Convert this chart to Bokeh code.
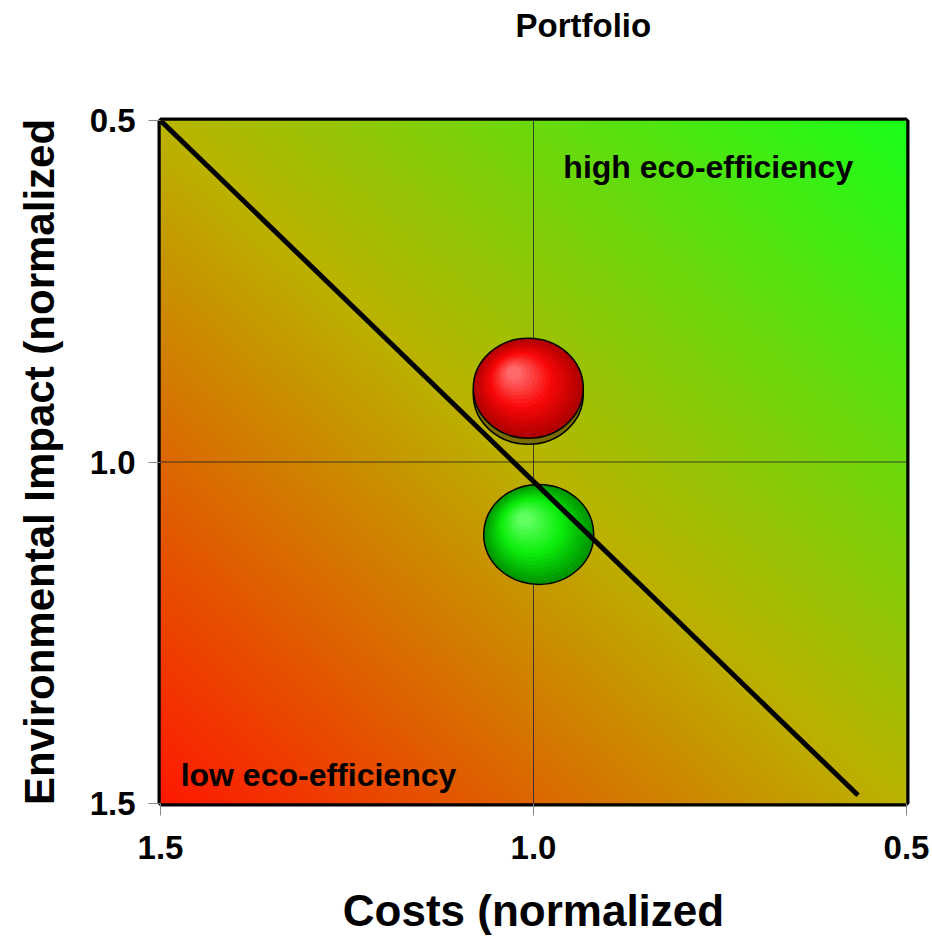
import numpy as np
from bokeh.plotting import figure
from bokeh.models import Range1d, FixedTicker, Title
from bokeh.core.properties import value
from bokeh.embed import file_html
from bokeh.resources import INLINE

# ---- data ----
title_text = "Portfolio"
x_label = "Costs (normalized"
y_label = "Environmental Impact (normalized"
tick_values = [0.5, 1.0, 1.5]
tick_labels = ["0.5", "1.0", "1.5"]

bubble_cost = [1.007, 0.993]        # normalized costs
bubble_impact = [0.892, 1.106]      # normalized environmental impact

parity_x = [1.5, 0.565]
parity_y = [0.5, 1.488]

zone_labels = ["high eco-efficiency", "low eco-efficiency"]
zone_x = [0.960, 1.473]
zone_y = [0.568, 1.459]

# ---- styling ----
FONT = "Liberation Sans"
FRAME_W, FRAME_H = 746, 683
BUBBLE_RX, BUBBLE_RY = 55, 50
bubble_stops = [
    [(175, 0, 0), (250, 8, 8), (255, 105, 105)],     # red
    [(0, 150, 0), (12, 238, 12), (95, 255, 95)],      # green
]
bubble_shadow_px = [6, 0]

lo, hi = min(tick_values), max(tick_values)
p = figure(width=932, height=937, title=None,
           x_range=Range1d(hi, lo), y_range=Range1d(hi, lo),
           output_backend="svg", toolbar_location=None,
           min_border_left=160, min_border_right=26,
           min_border_top=120, min_border_bottom=134,
           background_fill_color="white", border_fill_color="white")

# diagonal colour wash: red (low eco-efficiency) -> olive -> green (high)
N = 300
xs = np.linspace(lo, hi, N)
ys = np.linspace(lo, hi, N)
XX, YY = np.meshgrid(xs, ys)
t = ((hi - XX) + (hi - YY)) / (hi - lo) / 2.0
c0 = np.array([255, 25, 0], float)
c1 = np.array([186, 180, 0], float)
c2 = np.array([25, 255, 25], float)
tt = t[..., None]
rgb = np.where(tt < 0.5, c0 + (c1 - c0) * (tt / 0.5), c1 + (c2 - c1) * ((tt - 0.5) / 0.5))
rgb = np.clip(rgb, 0, 255).astype(np.uint32)
img = (255 << 24) | (rgb[..., 2] << 16) | (rgb[..., 1] << 8) | rgb[..., 0]
p.image_rgba(image=[img.astype(np.uint32)], x=lo, y=lo, dw=hi - lo, dh=hi - lo)

# reference lines at the middle tick
mid = tick_values[1]
p.segment(x0=[mid, lo], y0=[lo, mid], x1=[mid, hi], y1=[hi, mid],
          line_color="#222222", line_width=1, line_alpha=0.8)

# shaded bubbles
dx = 1.0 / FRAME_W
dy = 1.0 / FRAME_H
K = 16
for cx, cy, stops, sh in zip(bubble_cost, bubble_impact, bubble_stops, bubble_shadow_px):
    if sh:
        p.ellipse(x=[cx], y=[cy + sh * dy], width=2 * BUBBLE_RX, height=2 * BUBBLE_RY,
                  width_units="screen", height_units="screen",
                  fill_color="#7a6e00", line_color="black", line_width=1.5)
    hx, hy = 14 * dx, -15 * dy
    for k in range(K):
        s = k / (K - 1)
        f = 1 - 0.86 * s
        if s < 0.5:
            a, b, u = stops[0], stops[1], s / 0.5
        else:
            a, b, u = stops[1], stops[2], (s - 0.5) / 0.5
        col = tuple(int(a[i] + (b[i] - a[i]) * u) for i in range(3))
        p.ellipse(x=[cx + s * hx], y=[cy + s * hy],
                  width=2 * BUBBLE_RX * f, height=2 * BUBBLE_RY * f,
                  width_units="screen", height_units="screen",
                  fill_color="#%02x%02x%02x" % col,
                  line_color="black" if k == 0 else None, line_width=1.5)

# parity line
p.line(parity_x, parity_y, line_color="black", line_width=5)

# zone labels
p.text(x=zone_x, y=zone_y, text=zone_labels, text_font=value(FONT),
       text_font_style="bold", text_font_size="32px", text_color="black",
       text_baseline="alphabetic", text_align="left")

# frame
p.outline_line_color = "black"
p.outline_line_width = 6
p.xgrid.visible = False
p.ygrid.visible = False

# heading: a blank spacer band next to the frame, then the heading above it
p.add_layout(Title(text=" ", text_font_size="10px", standoff=57), "above")
p.add_layout(Title(text=title_text, align="left", offset=355, vertical_align="top",
                   standoff=10, text_font=FONT, text_font_style="bold",
                   text_font_size="33px", text_color="black"), "above")

for ax in (p.xaxis[0], p.yaxis[0]):
    ax.ticker = FixedTicker(ticks=tick_values)
    ax.major_label_overrides = {v: l for v, l in zip(tick_values, tick_labels)}
    ax.minor_tick_line_color = None
    ax.axis_line_color = None
    ax.major_tick_in = 0
    ax.major_tick_out = 12
    ax.major_tick_line_color = "#888888"
    ax.major_label_text_font = FONT
    ax.major_label_text_font_style = "bold"
    ax.major_label_text_font_size = "33px"
    ax.major_label_text_color = "black"
    ax.axis_label_text_font = FONT
    ax.axis_label_text_font_style = "bold"
    ax.axis_label_text_color = "black"

p.xaxis.axis_label = x_label
p.xaxis.axis_label_text_font_size = "44px"
p.xaxis.major_label_standoff = 20
p.xaxis.axis_label_standoff = 24

p.yaxis.axis_label = y_label
p.yaxis.axis_label_text_font_size = "42px"
p.yaxis.major_label_standoff = 13
p.yaxis.axis_label_standoff = 24

open("out.html", "w").write(file_html(p, INLINE))
